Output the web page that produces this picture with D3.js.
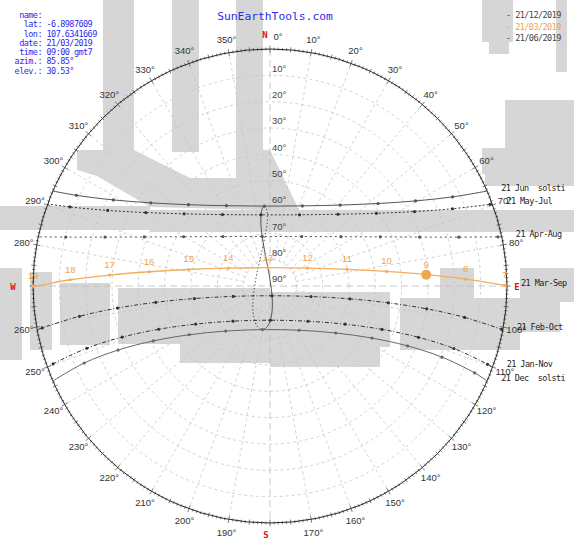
<!DOCTYPE html>
<html>
<head>
<meta charset="utf-8">
<script src="https://cdn.jsdelivr.net/npm/d3@7"></script>
<style>
  body { margin: 0; background: #fff; }
  svg { display: block; }
  text { white-space: pre; }
</style>
</head>
<body>
<svg id="chart" width="574" height="540"></svg>
<script>
// ---- observer & current sun position ----
const sunAz = 85.85;
const sunEl = 30.53;
const infoKeys = ["name:", "lat:", "lon:", "date:", "time:", "azim.:", "elev.:"];
const infoVals = ["", "-6.8987609", "107.6341669", "21/03/2019", "09:00 gmt7", sunAz.toFixed(2) + "°", sunEl.toFixed(2) + "°"];
const legendDates = ["21/12/2019", "21/03/2019", "21/06/2019"];

// ---- grid ----
const elevationRings = [10, 20, 30, 40, 50, 60, 70, 80];
const elevationLabels = [10, 20, 30, 40, 50, 60, 70, 80, 90];
const azimuthLabels = [10, 20, 30, 40, 50, 60, 70, 80, 100, 110, 120, 130, 140, 150, 160, 170,
  190, 200, 210, 220, 230, 240, 250, 260, 280, 290, 300, 310, 320, 330, 340, 350];

// ---- sun paths: [clock hour, azimuth°, elevation°] ----
const jun21 = [[8, 63.99, 12.83], [9, 59.69, 25.98], [10, 52.63, 38.38], [11, 40.96, 49.30], [12, 21.98, 57.19],
  [13, 355.95, 59.59], [14, 331.48, 55.30], [15, 314.93, 46.27], [16, 304.90, 34.80], [17, 298.79, 22.12], [18, 295.10, 8.83]];
const may21 = [[7, 69.64, 0.90], [8, 67.05, 14.75], [9, 62.75, 28.26], [10, 55.64, 41.07], [11, 43.45, 52.47], [12, 22.50, 60.73],
  [13, 352.78, 62.77], [14, 326.36, 57.43], [15, 310.01, 47.39], [16, 300.59, 35.19], [17, 294.97, 22.00], [18, 291.56, 8.30]];
const apr21 = [[7, 77.83, 1.44], [8, 75.49, 15.93], [9, 71.89, 30.23], [10, 65.99, 44.14], [11, 55.20, 57.17], [12, 32.60, 67.70],
  [13, 351.14, 70.97], [14, 316.40, 64.08], [15, 299.69, 52.23], [16, 291.31, 38.76], [17, 286.50, 24.65], [18, 283.47, 10.26]];
const mar21 = [[7, 89.85, 0.80], [8, 88.00, 15.69], [9, 85.85, 30.53], [10, 82.89, 45.38], [11, 77.77, 60.07], [12, 64.43, 74.23],
  [13, 353.33, 83.01], [14, 293.14, 72.76], [15, 281.48, 58.48], [16, 276.73, 43.78], [17, 273.90, 28.95], [18, 271.79, 14.08], [19, 269.95, 0]];
const feb21 = [[7, 100.62, 0.48], [8, 99.16, 15.15], [9, 98.29, 29.87], [10, 98.10, 44.61], [11, 99.16, 59.33], [12, 104.45, 73.94],
  [13, 167.85, 86.21], [14, 254.21, 75.50], [15, 260.58, 60.92], [16, 261.86, 46.20], [17, 261.77, 31.46], [18, 260.96, 16.74], [19, 259.57, 2.06]];
const jan21 = [[7, 109.79, 2.19], [8, 108.78, 16.25], [9, 109.06, 30.35], [10, 111.17, 44.35], [11, 116.95, 57.99], [12, 132.94, 70.36],
  [13, 179.31, 77.00], [14, 226.47, 70.61], [15, 242.84, 58.29], [16, 248.75, 44.66], [17, 250.92, 30.66], [18, 251.23, 16.56], [19, 250.25, 2.50]];
const dec21 = [[7, 113.00, 5.56], [8, 112.47, 19.31], [9, 113.53, 33.03], [10, 117.05, 46.52], [11, 125.54, 59.31], [12, 146.59, 69.88],
  [13, 189.85, 73.19], [14, 224.48, 66.01], [15, 238.87, 54.18], [16, 244.80, 41.01], [17, 247.13, 27.39], [18, 247.48, 13.64]];

// sunrise / sunset azimuths (elevation 0°)
const riseAz = [66.38, 69.75, 78.01, 89.95, 100.68, 110.05, 113.62];
const setAz = [293.62, 290.25, 281.99, 270.05, 259.32, 249.95, 246.38];
const pathNames = ["21 Jun  solsti", "21 May-Jul", "21 Apr-Aug", "21 Mar-Sep", "21 Feb-Oct", "21 Jan-Nov", "21 Dec  solsti"];

// analemma at 13:00, [azimuth°, elevation°]
const analemmaRising = [[189.85, 73.19], [186.06, 73.81], [181.36, 75.69], [176.05, 79.67], [171.24, 84.13], [151.7, 88.98],
  [355.43, 85.49], [351.74, 78.58], [350.98, 73.19], [351.36, 67.85], [352.28, 64.06], [353.87, 60.93], [355.34, 59.70], [355.95, 59.59]];
const analemmaFalling = [[355.95, 59.59], [356.81, 59.95], [357.74, 61.48], [357.67, 64.98], [355.94, 68.85], [350.22, 74.48],
  [339.06, 79.30], [306.93, 83.55], [255.74, 83.74], [221.24, 80.07], [208.17, 76.88], [198.85, 74.20], [192.42, 73.28], [189.85, 73.19]];

// ---- drawing ----
const svg = d3.select("#chart");
const cx = 270, cy = 286, R = 237;
const rad = Math.PI / 180;
const rScale = d3.scaleLinear().domain([90, 0]).range([0, R]);
const project = (az, el) => {
  const r = rScale(el);
  return [cx + r * Math.sin(az * rad), cy - r * Math.cos(az * rad)];
};
const MONO = "'DejaVu Sans Mono', 'Liberation Mono', monospace";
const SANS = "'Liberation Sans', Arial, sans-serif";

// background watermark (blocky grey calligraphy)
const wm = svg.append("g").attr("fill", "#d6d6d6");
const wmRects = [
  [103, 0, 31, 150], [172, 0, 27, 152], [236, 0, 27, 150],
  [0, 206, 150, 24], [150, 210, 424, 22],
  [482, 0, 31, 42], [489, 42, 20, 12], [556, 0, 11, 72],
  [505, 100, 69, 70], [482, 148, 40, 26], [485, 170, 89, 16],
  [0, 268, 22, 92], [30, 272, 22, 78], [60, 283, 50, 62], [118, 288, 152, 56],
  [180, 330, 90, 33], [270, 292, 120, 55], [400, 298, 120, 52],
  [270, 345, 110, 22], [440, 268, 34, 32], [520, 268, 54, 34], [520, 302, 40, 30]
];
wm.selectAll("rect").data(wmRects).join("rect")
  .attr("x", d => d[0]).attr("y", d => d[1]).attr("width", d => d[2]).attr("height", d => d[3]);
const wmPolys = [
  [[77, 150], [134, 150], [190, 178], [236, 178], [236, 150], [270, 150], [300, 212], [265, 210], [150, 207], [97, 176], [77, 170]]
];
wm.selectAll("path").data(wmPolys).join("path").attr("d", d => d3.line()(d) + "Z");

// elevation rings and spokes
const grid = svg.append("g").attr("fill", "none").attr("stroke", "#c6c6c6").attr("stroke-width", 0.8);
grid.selectAll("circle").data(elevationRings).join("circle")
  .attr("cx", cx).attr("cy", cy).attr("r", d => rScale(d))
  .attr("stroke-dasharray", "3,3");
const spokes = d3.range(0, 360, 10).filter(a => a % 90 !== 0);
grid.selectAll("line.spoke").data(spokes).join("line").attr("class", "spoke")
  .attr("x1", a => project(a, 80)[0]).attr("y1", a => project(a, 80)[1])
  .attr("x2", a => project(a, 0)[0]).attr("y2", a => project(a, 0)[1])
  .attr("stroke-dasharray", "3,3");
grid.selectAll("line.axis").data([0, 90]).join("line").attr("class", "axis")
  .attr("x1", a => project(a, 0)[0]).attr("y1", a => project(a, 0)[1])
  .attr("x2", a => project(a + 180, 0)[0]).attr("y2", a => project(a + 180, 0)[1])
  .attr("stroke", "#bcbcbc").attr("stroke-dasharray", "7,4");

// horizon circle with degree ticks
svg.append("circle").attr("cx", cx).attr("cy", cy).attr("r", R)
  .attr("fill", "none").attr("stroke", "#222").attr("stroke-width", 1);
svg.append("g").attr("stroke", "#444").attr("stroke-width", 0.7)
  .selectAll("line").data(d3.range(0, 360, 1)).join("line")
  .each(function (a) {
    const len = a % 10 === 0 ? 3.5 : (a % 5 === 0 ? 2.5 : 1.5);
    const s = Math.sin(a * rad), c = Math.cos(a * rad);
    d3.select(this)
      .attr("x1", cx + (R - len) * s).attr("y1", cy - (R - len) * c)
      .attr("x2", cx + (R + len) * s).attr("y2", cy - (R + len) * c);
  });

// azimuth labels
const azLab = svg.append("g").attr("font-family", SANS).attr("font-size", 9.5).attr("fill", "#333")
  .attr("text-anchor", "middle");
azLab.selectAll("text").data(azimuthLabels).join("text")
  .attr("x", a => cx + 250 * Math.sin(a * rad))
  .attr("y", a => cy - 250 * Math.cos(a * rad))
  .attr("dy", "0.35em")
  .text(a => a + "°");
azLab.append("text").attr("x", cx + 8).attr("y", cy - R - 12).attr("dy", "0.35em").text("0°");

// cardinal points
const cardinal = [["N", cx - 5, cy - R - 14], ["E", cx + R + 10, cy + 1], ["S", cx - 4, cy + R + 12], ["W", cx - R - 20, cy + 1]];
svg.append("g").attr("font-family", MONO).attr("font-size", 9).attr("font-weight", "bold")
  .attr("fill", "#e01010").attr("text-anchor", "middle")
  .selectAll("text").data(cardinal).join("text")
  .attr("x", d => d[1]).attr("y", d => d[2]).attr("dy", "0.35em").text(d => d[0]);

// elevation labels along the north axis
svg.append("g").attr("font-family", SANS).attr("font-size", 9.5).attr("fill", "#444")
  .selectAll("text").data(elevationLabels).join("text")
  .attr("x", cx + 2).attr("y", e => project(0, e)[1] - 7).attr("dy", "0.35em")
  .text(e => e + "°");

// analemma
const smooth = d3.line().curve(d3.curveCatmullRom.alpha(0.5));
svg.append("path").attr("d", smooth(analemmaRising.map(p => project(p[0], p[1]))))
  .attr("fill", "none").attr("stroke", "#444").attr("stroke-width", 0.9);
svg.append("path").attr("d", smooth(analemmaFalling.map(p => project(p[0], p[1]))))
  .attr("fill", "none").attr("stroke", "#444").attr("stroke-width", 0.9).attr("stroke-dasharray", "1.5,2");

// day paths
const ORANGE = "#f2ad5e";
const paths = [
  { hours: jun21, stroke: "#555", dash: null },
  { hours: may21, stroke: "#333", dash: "2,2" },
  { hours: apr21, stroke: "#555", dash: "2,3" },
  { hours: mar21, stroke: ORANGE, dash: null },
  { hours: feb21, stroke: "#333", dash: "4,2,1,2" },
  { hours: jan21, stroke: "#333", dash: "4,2,1,2" },
  { hours: dec21, stroke: "#666", dash: null }
].map((p, i) => Object.assign(p, { rise: riseAz[i], set: setAz[i], name: pathNames[i] }));

paths.forEach(p => {
  const pts = [project(p.rise, 0), ...p.hours.map(h => project(h[1], h[2])), project(p.set, 0)];
  svg.append("path").attr("d", smooth(pts))
    .attr("fill", "none").attr("stroke", p.stroke).attr("stroke-width", p.stroke === ORANGE ? 1.3 : 1)
    .attr("stroke-dasharray", p.dash);
  svg.append("g").attr("fill", p.stroke)
    .selectAll("circle").data(p.hours).join("circle")
    .attr("cx", h => project(h[1], h[2])[0]).attr("cy", h => project(h[1], h[2])[1])
    .attr("r", 1.6);
});

// path names at sunrise points
svg.append("g").attr("font-family", MONO).attr("font-size", 8.5).attr("letter-spacing", -0.55).attr("fill", "#222")
  .selectAll("text").data(paths).join("text")
  .attr("x", p => project(p.rise, 0)[0] + 14).attr("y", p => project(p.rise, 0)[1] - 3)
  .attr("dy", "0.35em").text(p => p.name);

// hour numbers on the equinox path
svg.append("g").attr("font-family", SANS).attr("font-size", 9.5).attr("fill", "#eea24c").attr("text-anchor", "middle")
  .selectAll("text").data(mar21).join("text")
  .attr("x", h => project(h[1], h[2])[0]).attr("y", h => project(h[1], h[2])[1] - 7)
  .text(h => h[0]);

// current sun position
const sunXY = project(sunAz, sunEl);
svg.append("circle").attr("cx", sunXY[0]).attr("cy", sunXY[1]).attr("r", 5).attr("fill", "#f0a850");

// site title
svg.append("text").attr("x", 275).attr("y", 16).attr("dy", "0.35em").attr("text-anchor", "middle")
  .attr("font-family", MONO).attr("font-size", 11.3).attr("fill", "#2a2af0").text("SunEarthTools.com");

// info block
const info = svg.append("g").attr("font-family", MONO).attr("font-size", 8.5).attr("letter-spacing", -0.55).attr("fill", "#2a2af0");
info.selectAll("text.k").data(infoKeys).join("text").attr("class", "k")
  .attr("x", 42).attr("y", (d, i) => 15 + i * 9.3).attr("dy", "0.35em").attr("text-anchor", "end").text(d => d);
info.selectAll("text.v").data(infoVals).join("text").attr("class", "v")
  .attr("x", 46.5).attr("y", (d, i) => 15 + i * 9.3).attr("dy", "0.35em").text(d => d);

// legend
const legendColors = ["#444", "#eea24c", "#444"];
svg.append("g").attr("font-family", MONO).attr("font-size", 8.5).attr("letter-spacing", -0.55)
  .selectAll("text").data(legendDates).join("text")
  .attr("x", 506).attr("y", (d, i) => 15 + i * 11.7).attr("dy", "0.35em")
  .attr("fill", (d, i) => legendColors[i]).text(d => "- " + d);
</script>
</body>
</html>
